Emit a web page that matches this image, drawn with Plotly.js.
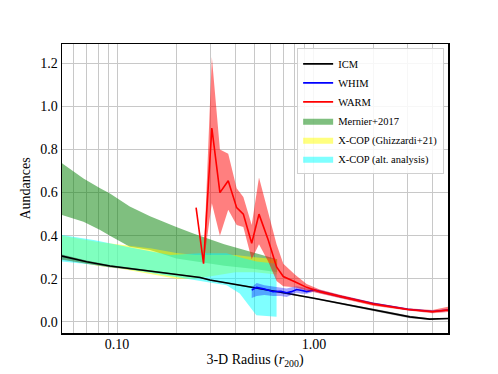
<!DOCTYPE html>
<html>
<head>
<meta charset="utf-8">
<script src="https://cdn.plot.ly/plotly-3.0.1.min.js"></script>
<style>
  html, body { margin: 0; padding: 0; background: #fff; }
  #chart { width: 498px; height: 374px; }
</style>
</head>
<body>
<div id="chart"></div>
<script>
// ICM (black line + thin band)
const icmX = [0.0525, 0.07, 0.092, 0.147, 0.2, 0.264, 0.296, 0.473, 0.7, 1.0, 1.52, 2.25, 3.07, 3.87, 4.8];
const icmY = [0.305, 0.279, 0.259, 0.236, 0.222, 0.206, 0.194, 0.163, 0.135, 0.109, 0.078, 0.047, 0.023, 0.0125, 0.015];
const icmHi = [0.312, 0.285, 0.264, 0.239, 0.225, 0.209, 0.197, 0.166, 0.138, 0.112, 0.082, 0.052, 0.028, 0.016, 0.018];
const icmLo = [0.288, 0.270, 0.252, 0.232, 0.219, 0.203, 0.191, 0.160, 0.132, 0.106, 0.074, 0.041, 0.017, 0.010, 0.012];

// WHIM (blue)
const whimX = [0.483, 0.512, 0.56, 0.62, 0.68, 0.727, 0.77, 0.817, 0.87, 0.918, 1.0, 1.355, 2.0, 3.0, 4.0, 4.8];
const whimY = [0.147, 0.16, 0.152, 0.14, 0.142, 0.135, 0.14, 0.15, 0.145, 0.14, 0.148, 0.118, 0.085, 0.058, 0.048, 0.055];
const whimHi = [0.16, 0.18, 0.17, 0.165, 0.16, 0.155, 0.16, 0.165, 0.16, 0.155, 0.155, 0.124, 0.09, 0.062, 0.052, 0.06];
const whimLo = [0.11, 0.12, 0.125, 0.12, 0.12, 0.115, 0.125, 0.135, 0.13, 0.13, 0.14, 0.112, 0.08, 0.054, 0.044, 0.05];

// WARM (red)
const warmX = [0.252, 0.275, 0.303, 0.333, 0.367, 0.405, 0.438, 0.483, 0.526, 0.586, 0.646, 0.699, 0.80, 0.918, 1.07, 1.355, 2.0, 3.0, 4.0, 4.8];
const warmY = [0.53, 0.27, 0.90, 0.60, 0.655, 0.53, 0.50, 0.365, 0.50, 0.38, 0.255, 0.21, 0.186, 0.16, 0.14, 0.118, 0.082, 0.057, 0.047, 0.055];
const warmHi = [0.53, 0.27, 1.23, 0.80, 0.78, 0.62, 0.58, 0.45, 0.67, 0.50, 0.36, 0.27, 0.22, 0.175, 0.15, 0.126, 0.09, 0.063, 0.055, 0.07];
const warmLo = [0.53, 0.27, 0.55, 0.40, 0.52, 0.45, 0.44, 0.29, 0.36, 0.28, 0.19, 0.165, 0.16, 0.145, 0.13, 0.11, 0.075, 0.052, 0.04, 0.045];

// Mernier+2017 (green band)
const merX = [0.0525, 0.0675, 0.082, 0.092, 0.116, 0.147, 0.2, 0.244, 0.35, 0.5, 0.65];
const merHi = [0.736, 0.666, 0.62, 0.596, 0.535, 0.49, 0.44, 0.41, 0.36, 0.32, 0.29];
const merLo = [0.496, 0.465, 0.426, 0.40, 0.348, 0.333, 0.294, 0.28, 0.26, 0.245, 0.23];

// X-COP (Ghizzardi+21) (yellow band)
const ghX = [0.0525, 0.08, 0.1, 0.15, 0.2, 0.25, 0.3, 0.4, 0.5, 0.65];
const ghHi = [0.40, 0.37, 0.36, 0.34, 0.32, 0.31, 0.31, 0.31, 0.30, 0.29];
const ghLo = [0.29, 0.26, 0.25, 0.22, 0.20, 0.20, 0.21, 0.23, 0.23, 0.22];

// X-COP (alt. analysis) (cyan band)
const altX = [0.0525, 0.076, 0.112, 0.186, 0.264, 0.36, 0.42, 0.51, 0.646];
const altHi = [0.403, 0.38, 0.348, 0.31, 0.318, 0.318, 0.30, 0.28, 0.27];
const altLo = [0.28, 0.265, 0.245, 0.215, 0.19, 0.17, 0.132, 0.031, 0.023];

// x ticks: labelled decades + minor grid positions
const xTickVals = [0.1, 1];
const xTickText = ['0.10', '1.00'];
const xMinorVals = [0.06, 0.07, 0.08, 0.09, 0.2, 0.3, 0.4, 0.5, 0.6, 0.7, 0.8, 0.9, 2, 3, 4];
const yTickVals = [0, 0.2, 0.4, 0.6, 0.8, 1.0, 1.2];

const band = (xs, hi, lo, color, name, showlegend) => ({
    x: xs.concat(xs.slice().reverse()),
    y: hi.concat(lo.slice().reverse()),
    fill: 'toself',
    fillcolor: color,
    mode: 'lines',
    line: { width: 0 },
    name: name,
    showlegend: showlegend,
    hoverinfo: 'skip'
});

const line = (xs, ys, color, name) => ({
    x: xs, y: ys,
    mode: 'lines',
    line: { color: color, width: 1.6 },
    name: name
});

const data = [
    Object.assign(band(merX, merHi, merLo, 'rgba(0,128,0,0.5)', 'Mernier+2017', true), { legendrank: 4 }),
    Object.assign(band(ghX, ghHi, ghLo, 'rgba(255,255,0,0.5)', 'X-COP (Ghizzardi+21)', true), { legendrank: 5 }),
    Object.assign(band(altX, altHi, altLo, 'rgba(0,255,255,0.5)', 'X-COP (alt. analysis)', true), { legendrank: 6 }),
    band(icmX, icmHi, icmLo, 'rgba(0,0,0,0.3)', 'ICM band', false),
    Object.assign(line(icmX, icmY, 'black', 'ICM'), { legendrank: 1 }),
    band(whimX, whimHi, whimLo, 'rgba(0,0,255,0.35)', 'WHIM band', false),
    Object.assign(line(whimX, whimY, 'blue', 'WHIM'), { legendrank: 2 }),
    band(warmX, warmHi, warmLo, 'rgba(255,0,0,0.5)', 'WARM band', false),
    Object.assign(line(warmX, warmY, 'red', 'WARM'), { legendrank: 3 })
];

const serif = 'Times New Roman';

const layout = {
    width: 498,
    height: 374,
    paper_bgcolor: 'white',
    plot_bgcolor: 'white',
    margin: { l: 62, r: 50, t: 44, b: 41 },
    font: { family: serif, size: 14, color: 'black' },
    xaxis: {
        type: 'log',
        range: [Math.log10(0.0525), Math.log10(4.8)],
        tickmode: 'array',
        tickvals: xTickVals,
        ticktext: xTickText,
        tickangle: 0,
        ticks: '',
        ticklabelstandoff: -2,
        showgrid: true,
        gridcolor: '#c8c8c8',
        gridwidth: 1,
        minor: { tickmode: 'array', tickvals: xMinorVals, showgrid: true, gridcolor: '#c8c8c8', gridwidth: 1, ticks: '' },
        showline: true,
        mirror: true,
        linecolor: 'black',
        linewidth: 1.5,
        zeroline: false,
        tickfont: { family: serif, size: 14, color: 'black' },
        title: { text: '3-D Radius (<i>r</i><sub>200</sub>)', font: { family: serif, size: 14, color: 'black' }, standoff: 0 }
    },
    yaxis: {
        range: [-0.052, 1.29],
        tickmode: 'array',
        tickvals: yTickVals,
        tickformat: '.1f',
        ticks: '',
        showgrid: true,
        gridcolor: '#c8c8c8',
        gridwidth: 1,
        showline: true,
        mirror: true,
        linecolor: 'black',
        linewidth: 1.5,
        zeroline: false,
        tickfont: { family: serif, size: 14, color: 'black' },
        title: { text: 'Aundances', font: { family: serif, size: 14, color: 'black' }, standoff: 6 }
    },
    showlegend: true,
    legend: {
        x: 0.99, y: 0.985,
        xanchor: 'right', yanchor: 'top',
        bgcolor: 'rgba(255,255,255,0.85)',
        bordercolor: '#d0d0d0',
        borderwidth: 1,
        font: { family: serif, size: 10.5, color: 'black' },
        tracegroupgap: 0,
        itemwidth: 30
    }
};

Plotly.newPlot('chart', data, layout, { staticPlot: true });
</script>
</body>
</html>
